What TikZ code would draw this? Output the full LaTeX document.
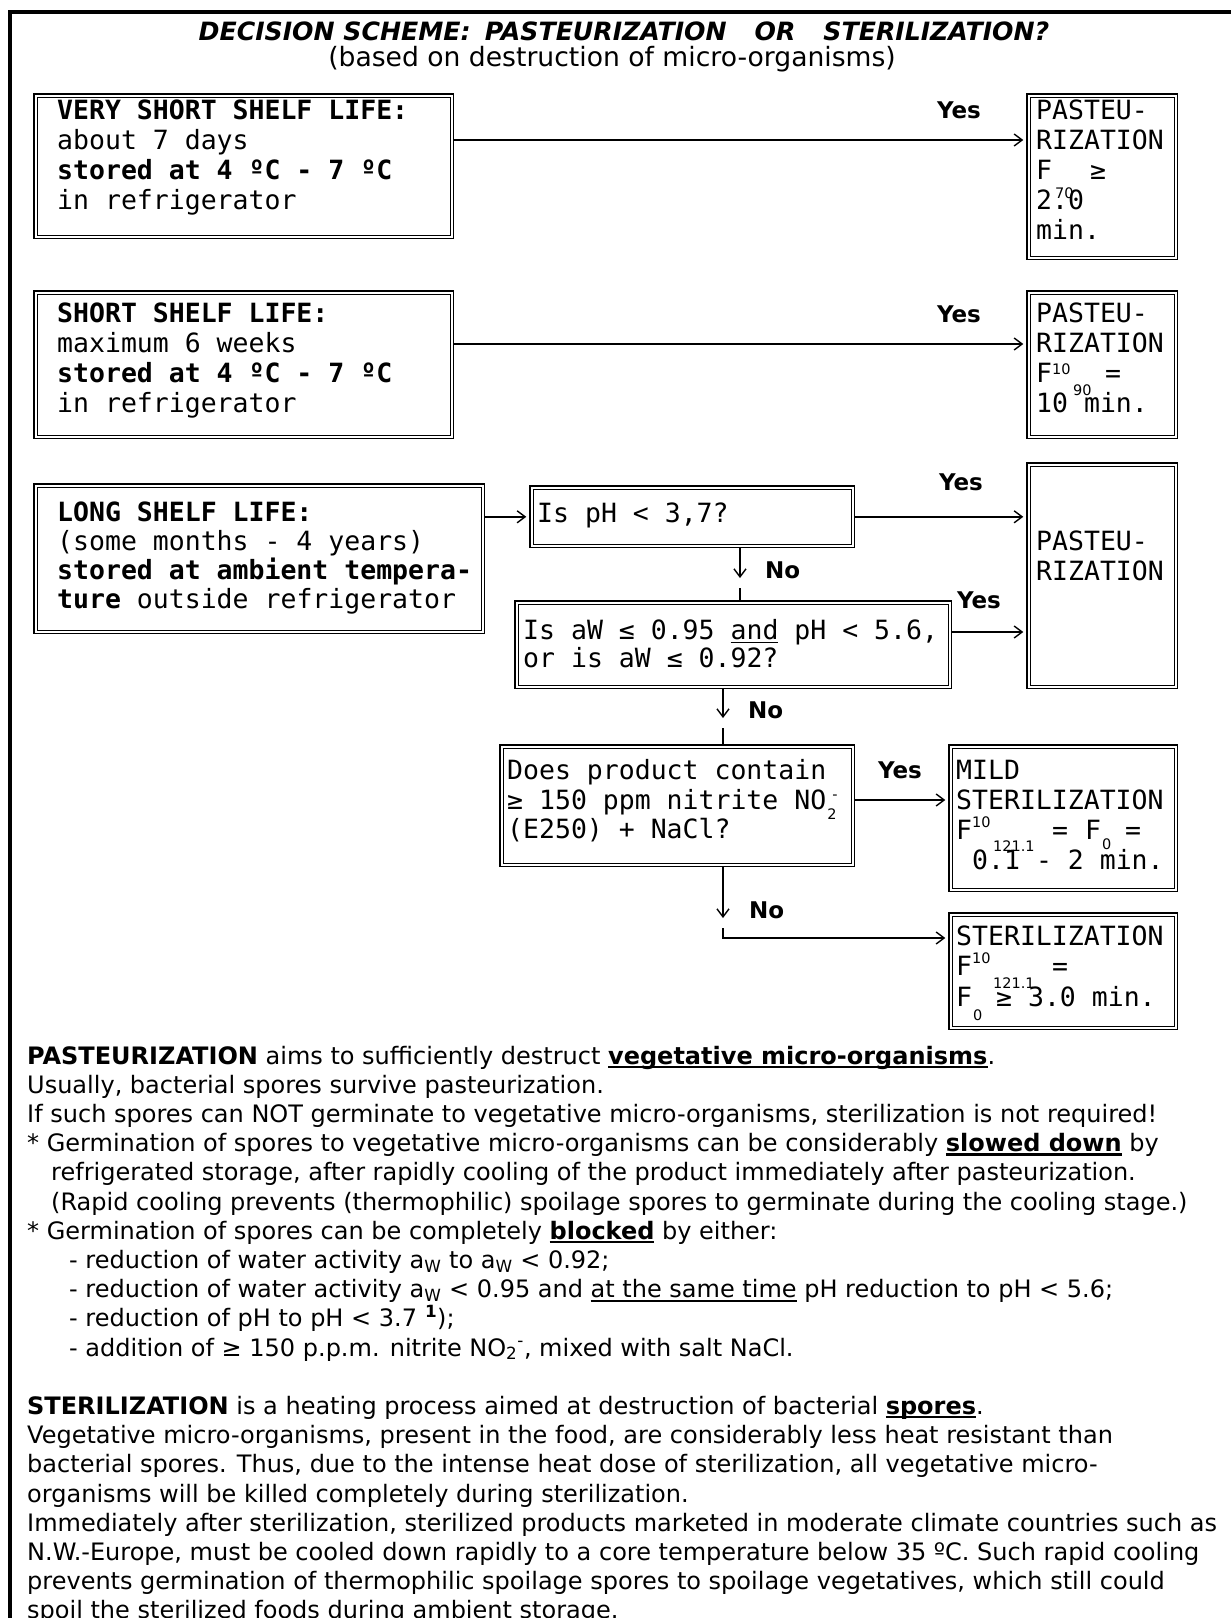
\documentclass[tikz,border=0pt]{standalone}
\usepackage{fontspec}
\setmainfont{DejaVu Sans}
\newfontfamily\mono{DejaVu Sans Mono}
\usetikzlibrary{arrows.meta}
\newsavebox\ulnbox
\newcommand\scrf{\rmfamily\mdseries\fontsize{14.5}{14.5}\selectfont}
\newcommand\rsc[3]{\rlap{\hspace{#1pt}\raisebox{#2pt}{\scrf #3}}}
\newcommand\uln[2][1.4]{\sbox\ulnbox{#2}\rlap{\rule[-4pt]{\wd\ulnbox}{#1pt}}\usebox\ulnbox}
\newcommand\mkbox[5]{\node[dbox, minimum width={#4pt-#2pt-4.6pt}, minimum height={#5pt-#3pt-4.6pt}] (#1) at ({#2+2.3},{#3+2.3}) {};}
\tikzset{
  dbox/.style={draw, line width=1.2pt, double, double distance=2.2pt, inner sep=0pt, outer sep=2.3pt, anchor=north west},
  conn/.style={line width=1.6pt},
  arr/.style={conn, -{Straight Barb[length=8pt, width=12pt, line width=1.4pt]}},
  arrb/.style={arr, shorten >=3pt},
  btxt/.style={anchor=base west, inner sep=0pt, font=\mono\fontsize{26.5}{30}\selectfont},
  lbl/.style={anchor=base, inner sep=0pt, font=\bfseries\fontsize{23}{28}\selectfont},
  lblw/.style={lbl, anchor=base west},
  body/.style={anchor=base west, inner sep=0pt, font=\fontsize{24.0}{29.2}\selectfont},
}
\begin{document}
\begin{tikzpicture}[x=1pt,y=-1pt]
\useasboundingbox (0,0) rectangle (1231,1618);
\clip (0,0) rectangle (1231,1618);
\fill[white] (0,0) rectangle (1231,1618);
\draw[line width=4pt] (10,1630) -- (10,12) -- (1240,12);

% title
\node[anchor=base, inner sep=0pt, font=\bfseries\itshape\fontsize{25.2}{29}\selectfont] (title) at (624,40)
  {DECISION SCHEME:\hspace{14pt}PASTEURIZATION\hspace{28pt}OR\hspace{28pt}STERILIZATION?};
\node[anchor=base, inner sep=0pt, font=\fontsize{26.6}{30}\selectfont] (subtitle) at (612,66)
  {(based on destruction of micro-organisms)};

% boxes
\mkbox{A}{31}{91}{452}{237}
\mkbox{P1}{1024}{91}{1176}{258}
\mkbox{B}{31}{288}{452}{437}
\mkbox{P2}{1024}{288}{1176}{437}
\mkbox{L}{31}{481}{483}{632}
\mkbox{PH}{527}{483}{853}{546}
\mkbox{P3}{1024}{460}{1176}{687}
\mkbox{AW}{512}{598}{950}{687}
\mkbox{NI}{497}{742}{853}{865}
\mkbox{MI}{946}{742}{1176}{890}
\mkbox{ST}{946}{910}{1176}{1028}

% box texts
\node[btxt] (a1) at (57,119) {\textbf{VERY SHORT SHELF LIFE:}};
\node[btxt] (a2) at (57,149) {about 7 days};
\node[btxt] (a3) at (57,179) {\textbf{stored at 4 ºC - 7 ºC}};
\node[btxt] (a4) at (57,209) {in refrigerator};

\node[btxt] (p11) at (1036,119) {PASTEU-};
\node[btxt] (p12) at (1036,149) {RIZATION};
\node[btxt] (p13) at (1036,179) {F\rsc{3}{-19}{70}\hspace{38pt}≥};
\node[btxt] (p14) at (1036,209) {2.0};
\node[btxt] (p15) at (1036,239) {min.};

\node[btxt] (b1) at (57,322) {\textbf{SHORT SHELF LIFE:}};
\node[btxt] (b2) at (57,352) {maximum 6 weeks};
\node[btxt] (b3) at (57,382) {\textbf{stored at 4 ºC - 7 ºC}};
\node[btxt] (b4) at (57,412) {in refrigerator};

\node[btxt] (p21) at (1036,322) {PASTEU-};
\node[btxt] (p22) at (1036,352) {RIZATION};
\node[btxt] (p23) at (1036,382) {F\rsc{0}{8}{10}\rsc{21}{-13}{90}\hspace{53pt}=};
\node[btxt] (p24) at (1036,412) {10 min.};

\node[btxt] (l1) at (57,521) {\textbf{LONG SHELF LIFE:}};
\node[btxt] (l2) at (57,550) {(some months - 4 years)};
\node[btxt] (l3) at (57,579) {\textbf{stored at ambient tempera-}};
\node[btxt] (l4) at (57,608) {\textbf{ture} outside refrigerator};

\node[btxt] (ph1) at (537,522) {Is pH < 3,7?};

\node[btxt] (p31) at (1036,550) {PASTEU-};
\node[btxt] (p32) at (1036,580) {RIZATION};

\node[btxt] (aw1) at (523,639) {Is aW ≤ 0.95 \uln{and} pH < 5.6,};
\node[btxt] (aw2) at (523,667) {or is aW ≤ 0.92?};

\node[btxt] (ni1) at (507,779) {Does product contain};
\node[btxt] (ni2) at (507,809) {≥ 150 ppm nitrite NO\rsc{1}{-10}{2}\rsc{6}{10}{-}};
\node[btxt] (ni3) at (507,838) {(E250) + NaCl?};

\node[btxt] (mi1) at (956,779) {MILD};
\node[btxt] (mi2) at (956,809) {STERILIZATION};
\node[btxt] (mi3) at (956,839) {F\rsc{0}{12}{10}\rsc{21}{-12}{121.1}\hspace{80pt}=\hspace{17pt}F\rsc{1}{-10}{0}\hspace{24pt}=};
\node[btxt] (mi4) at (956,869) {\hspace{16pt}0.1 - 2 min.};

\node[btxt] (st1) at (956,945) {STERILIZATION};
\node[btxt] (st2) at (956,975) {F\rsc{0}{12}{10}\rsc{21}{-13}{121.1}\hspace{80pt}=};
\node[btxt] (st3) at (956,1006) {F\rsc{1}{-14}{0}\hspace{24pt}≥ 3.0 min.};

% labels
\node[lbl] (yes1) at (959,118) {Yes};
\node[lbl] (yes2) at (959,322) {Yes};
\node[lbl] (yes3) at (961,490) {Yes};
\node[lbl] (yes4) at (979,608) {Yes};
\node[lbl] (yes5) at (900,778) {Yes};
\node[lblw] (no1) at (765,578) {No};
\node[lblw] (no2) at (748,718) {No};
\node[lblw] (no3) at (749,918) {No};

% connectors
\coordinate (cA) at (0,140);
\coordinate (cB) at (0,344);
\coordinate (cW) at (0,632);
\coordinate (cN) at (0,800);
\coordinate (cS) at (0,938);
\coordinate (n1a) at (740,578);
\coordinate (n1b) at (740,588);
\coordinate (n2a) at (723,718);
\coordinate (n2b) at (723,728);
\coordinate (n3a) at (723,918);
\coordinate (n3b) at (723,928);
\draw[arrb] (A.east |- cA) -- (P1.west |- cA);
\draw[arrb] (B.east |- cB) -- (P2.west |- cB);
\draw[arrb] (L.east |- PH.west) -- (PH.west);
\draw[arrb] (PH.east) -- (P3.west |- PH.east);
\draw[arrb] (AW.east |- cW) -- (P3.west |- cW);
\draw[arrb] (NI.east |- cN) -- (MI.west |- cN);
\draw[arr] (PH.south -| n1a) -- (n1a);
\draw[conn] (n1b) -- (AW.north -| n1b);
\draw[arr] (AW.south -| n2a) -- (n2a);
\draw[conn] (n2b) -- (NI.north -| n2b);
\draw[arr] (NI.south -| n3a) -- (n3a);
\draw[arrb] (n3b) |- (ST.west |- cS);

% body text
\node[body] (t0) at (27,1064.0) {\textbf{PASTEURIZATION} aims to sufficiently destruct \uln[2.2]{\textbf{vegetative micro-organisms}}.};
\node[body] (t1) at (27,1093.2) {Usually, bacterial spores survive pasteurization.};
\node[body] (t2) at (27,1122.4) {If such spores can NOT germinate to vegetative micro-organisms, sterilization is not required!};
\node[body] (t3) at (27,1151.6) {* Germination of spores to vegetative micro-organisms can be considerably \uln[2.2]{\textbf{slowed down}} by};
\node[body] (t4) at (51,1180.8) {refrigerated storage, after rapidly cooling of the product immediately after pasteurization.};
\node[body] (t5) at (51,1210.0) {(Rapid cooling prevents (thermophilic) spoilage spores to germinate during the cooling stage.)};
\node[body] (t6) at (27,1239.2) {* Germination of spores can be completely \uln[2.2]{\textbf{blocked}} by either:};
\node[body] (t7) at (69,1268.4) {- reduction of water activity a\textsubscript{W} to a\textsubscript{W} < 0.92;};
\node[body] (t8) at (69,1297.6) {- reduction of water activity a\textsubscript{W} < 0.95 and \uln{at the same time} pH reduction to pH < 5.6;};
\node[body] (t9) at (69,1326.8) {- reduction of pH to pH < 3.7\hspace{8pt}\textsuperscript{\textbf{1}});};
\node[body] (t10) at (69,1356.0) {- addition of ≥ 150 p.p.m. nitrite NO\textsubscript{2}\textsuperscript{-}, mixed with salt NaCl.};
\node[body] (t12) at (27,1414.4) {\textbf{STERILIZATION} is a heating process aimed at destruction of bacterial \uln[2.2]{\textbf{spores}}.};
\node[body] (t13) at (27,1443.6) {Vegetative micro-organisms, present in the food, are considerably less heat resistant than};
\node[body] (t14) at (27,1472.8) {bacterial spores. Thus, due to the intense heat dose of sterilization, all vegetative micro-};
\node[body] (t15) at (27,1502.0) {organisms will be killed completely during sterilization.};
\node[body] (t16) at (27,1531.2) {Immediately after sterilization, sterilized products marketed in moderate climate countries such as};
\node[body] (t17) at (27,1560.4) {N.W.-Europe, must be cooled down rapidly to a core temperature below 35 ºC. Such rapid cooling};
\node[body] (t18) at (27,1589.6) {prevents germination of thermophilic spoilage spores to spoilage vegetatives, which still could};
\node[body] (t19) at (27,1618.8) {spoil the sterilized foods during ambient storage.};
\end{tikzpicture}
\end{document}
